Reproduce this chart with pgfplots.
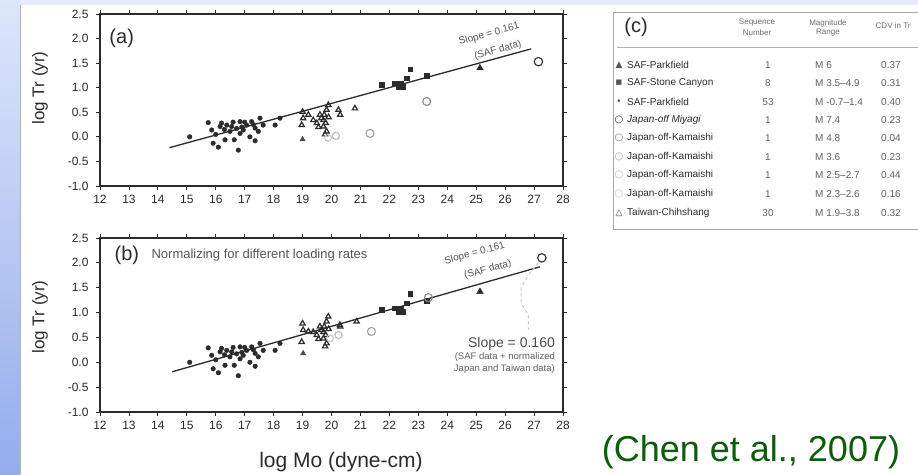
\documentclass[border=0pt]{standalone}
\usepackage{pgfplots}
\usepackage{pgfplotstable}
\pgfplotsset{compat=1.18}
\usepackage{fontspec}
\setmainfont{Liberation Sans}
\newfontfamily\symfont{DejaVu Sans}
\definecolor{ink}{HTML}{2B2B2B}
\definecolor{slideblueA}{HTML}{DCE6FA}
\definecolor{slideblueB}{HTML}{94ACEB}
\definecolor{topband}{HTML}{E2EBF9}
\definecolor{citegreen}{RGB}{12,92,12}
\newcommand{\fs}[1]{\fontsize{#1}{#1}\selectfont}

\pgfplotstableread{
x y
15.10 0.00
15.74 0.29
15.86 0.14
15.91 -0.13
16.00 0.05
16.09 -0.21
16.15 0.21
16.20 0.28
16.30 0.15
16.32 -0.06
16.38 0.24
16.49 0.11
16.55 0.21
16.60 0.30
16.64 -0.06
16.72 0.17
16.78 -0.27
16.84 0.31
16.84 0.07
16.90 0.20
16.95 0.14
17.00 0.30
17.07 0.24
17.18 0.00
17.24 0.31
17.30 0.25
17.36 0.18
17.36 -0.08
17.47 0.11
17.53 0.38
17.64 0.24
18.05 0.24
18.22 0.38
}\safpk

\pgfplotstableread{
x y
21.73 1.06
22.19 1.09
22.31 1.02
22.40 1.08
22.48 1.02
22.60 1.19
22.72 1.38
23.29 1.24
}\stone

\pgfplotstableread{
x y
18.97 0.24
19.00 0.51
19.02 0.38
19.20 0.45
19.37 0.34
19.49 0.28
19.55 0.20
19.60 0.45
19.65 0.38
19.72 0.34
19.72 0.21
19.75 0.45
19.78 0.05
19.80 0.28
19.83 0.55
19.83 0.11
19.89 0.65
19.90 0.40
20.24 0.55
20.30 0.45
20.81 0.58
}\taiwanA

\pgfplotstableread{
x y
18.97 0.41
19.00 0.78
19.02 0.65
19.20 0.62
19.37 0.61
19.49 0.55
19.55 0.47
19.60 0.72
19.65 0.65
19.72 0.61
19.72 0.48
19.75 0.72
19.78 0.32
19.80 0.55
19.83 0.82
19.83 0.38
19.89 0.92
19.90 0.67
20.29 0.75
20.30 0.72
20.87 0.82
}\taiwanB

\pgfplotsset{
  chenaxis/.style={
    scale only axis, width=463pt, anchor=south west,
    xmin=12, xmax=28, ymin=-1, ymax=2.5,
    xtick={12,13,14,15,16,17,18,19,20,21,22,23,24,25,26,27,28},
    ytick={-1,-0.5,0,0.5,1,1.5,2,2.5},
    yticklabels={-1.0,-0.5,0.0,0.5,1.0,1.5,2.0,2.5},
    tick align=outside, major tick length=4pt,
    every tick/.style={ink, line width=0.8pt},
    axis line style={ink, line width=1.7pt},
    tick label style={font=\fs{12}, text=ink},
    yticklabel style={xshift=-4pt},
    xticklabel style={yshift=-2pt},
    /pgf/number format/assume math mode=true,
    clip=false,
  },
  pkstyle/.style={only marks, mark=*, mark size=2.3pt, color=ink},
  scstyle/.style={only marks, mark=square*, mark size=2.3pt, color=ink},
  m6style/.style={only marks, mark=triangle*, mark size=3.8pt, color=ink},
  twstyle/.style={only marks, mark=triangle, mark size=3pt, color=ink, mark options={line width=1.2pt}},
  jpstyle/.style={only marks, mark=o, mark size=#1, mark options={line width=1.1pt}},
}

\begin{document}
\begin{tikzpicture}
\useasboundingbox (0pt,0pt) rectangle (918pt,474pt);
\clip (0pt,0pt) rectangle (918pt,474pt);
\fill[topband] (0pt,0pt) rectangle (918pt,474pt);
\shade[top color=slideblueA, bottom color=slideblueB] (0pt,0pt) rectangle (20pt,474pt);
\fill[white] (21pt,0pt) rectangle (918pt,469pt);
\draw[gray!60, line width=1pt] (20.5pt,0pt) -- (20.5pt,469pt);

% ---------- panel (a)
\begin{axis}[chenaxis, at={(100pt,288pt)}, height=172pt]
\addplot[ink, line width=1.3pt] coordinates {(14.4,-0.22) (26.9,1.79)};
\addplot[pkstyle] table {\safpk};
\addplot[scstyle] table {\stone};
\addplot[m6style] coordinates {(25.13,1.40)};
\addplot[twstyle] table {\taiwanA};
\addplot[only marks, mark=triangle*, mark size=3pt, color=ink!85] coordinates {(19.0,-0.05)};
\addplot[jpstyle=4.2pt, color=ink] coordinates {(27.15,1.53)};
\addplot[jpstyle=4pt, color=gray!90] coordinates {(23.29,0.72)};
\addplot[jpstyle=4pt, color=gray!75] coordinates {(21.33,0.07)};
\addplot[jpstyle=3.6pt, color=gray!55] coordinates {(20.15,0.02)};
\addplot[jpstyle=3.4pt, color=gray!45] coordinates {(19.88,-0.02)};
\node[font=\fs{20}, text=ink] at (axis cs:12.75,2.0) {(a)};
\node[rotate=15.3, font=\fs{10}, text=ink!80, inner sep=0.5pt] at (axis cs:25.45,2.09) {Slope = 0.161};
\node[rotate=15.3, font=\fs{10}, text=ink!80, inner sep=0.5pt] at (axis cs:25.75,1.76) {(SAF data)};
\end{axis}

% ---------- panel (b)
\begin{axis}[chenaxis, at={(100pt,62pt)}, height=174pt]
\addplot[ink, line width=1.3pt] coordinates {(14.5,-0.19) (27.2,1.92)};
\addplot[gray!45, line width=1pt, dashed] coordinates {(27.15,2.0) (26.8,1.75) (26.55,1.5) (26.55,1.2) (26.8,0.95) (26.8,0.65)};
\addplot[pkstyle] table {\safpk};
\addplot[scstyle] table {\stone};
\addplot[m6style] coordinates {(25.13,1.42)};
\addplot[twstyle] table {\taiwanB};
\addplot[only marks, mark=triangle*, mark size=3pt, color=ink!85] coordinates {(19.02,0.18)};
\addplot[jpstyle=4.2pt, color=ink] coordinates {(27.27,2.10)};
\addplot[jpstyle=4pt, color=gray!90] coordinates {(23.35,1.30)};
\addplot[jpstyle=4pt, color=gray!75] coordinates {(21.38,0.62)};
\addplot[jpstyle=3.6pt, color=gray!55] coordinates {(20.24,0.55)};
\addplot[jpstyle=3.4pt, color=gray!45] coordinates {(19.95,0.48)};
\node[font=\fs{20}, text=ink] at (axis cs:12.93,2.16) {(b)};
\node[anchor=west, font=\fs{13}, text=ink!80] at (axis cs:13.66,2.16) {Normalizing for different loading rates};
\node[rotate=15.3, font=\fs{10}, text=ink!80, inner sep=0.5pt] at (axis cs:24.95,2.19) {Slope = 0.161};
\node[rotate=15.3, font=\fs{10}, text=ink!80, inner sep=0.5pt] at (axis cs:25.4,1.86) {(SAF data)};
\node[anchor=east, font=\fs{14}, text=ink!85, inner sep=1pt] at (axis cs:27.76,0.37) {Slope = 0.160};
\node[anchor=east, font=\fs{9.5}, text=ink!75, inner sep=1pt] at (axis cs:27.76,0.11) {(SAF data + normalized};
\node[anchor=east, font=\fs{9.5}, text=ink!75, inner sep=1pt] at (axis cs:27.76,-0.13) {Japan and Taiwan data)};
\end{axis}

% ---------- axis titles
\node[rotate=90, font=\fs{17}, text=ink] at (40pt,386pt) {log Tr (yr)};
\node[rotate=90, font=\fs{17}, text=ink] at (40pt,157pt) {log Tr (yr)};
\node[font=\fs{21}, text=ink] at (341pt,12pt) {log Mo (dyne-cm)};

% ---------- table (c)
\draw[gray!70, line width=1pt] (613pt,461pt) rectangle (935pt,244pt);
\draw[gray!60, line width=0.8pt] (617pt,427pt) -- (935pt,427pt);
\node[font=\fs{20}, text=ink, inner sep=1pt] at (636pt,447pt) {(c)};
\begin{scope}[every node/.style={font=\fs{8}, text=ink!70, inner sep=0.5pt}]
\node at (757pt,451pt) {Sequence};
\node at (757pt,441pt) {Number};
\node at (828pt,451pt) {Magnitude};
\node at (828pt,441pt) {Range};
\node[anchor=west] at (875pt,448pt) {CDV in Tr};
\end{scope}
\begin{scope}[every node/.style={font=\fs{10}, text=ink!80, inner sep=1pt}]
\node[font=\symfont\fs{9}] at (619pt,409pt) {▲};
\node[font=\symfont\fs{7}] at (619pt,391pt) {■};
\node[font=\symfont\fs{9}] at (619pt,372pt) {•};
\node[font=\symfont\fs{10}, text=ink] at (619pt,354pt) {○};
\node[font=\symfont\fs{10}, text=gray] at (619pt,336pt) {○};
\node[font=\symfont\fs{10}, text=gray!75] at (619pt,317pt) {○};
\node[font=\symfont\fs{10}, text=gray!55] at (619pt,299pt) {○};
\node[font=\symfont\fs{10}, text=gray!45] at (619pt,280pt) {○};
\node[font=\symfont\fs{9}] at (619pt,261pt) {△};
\end{scope}
\begin{scope}[every node/.style={font=\fs{10}, text=ink, inner sep=1pt, anchor=west}]
\node at (626pt,409pt) {SAF-Parkfield};
\node at (626pt,391pt) {SAF-Stone Canyon};
\node at (626pt,372pt) {SAF-Parkfield};
\node at (626pt,354pt) {\itshape Japan-off Miyagi};
\node at (626pt,336pt) {Japan-off-Kamaishi};
\node at (626pt,317pt) {Japan-off-Kamaishi};
\node at (626pt,299pt) {Japan-off-Kamaishi};
\node at (626pt,280pt) {Japan-off-Kamaishi};
\node at (626pt,261pt) {Taiwan-Chihshang};
\end{scope}
\begin{scope}[every node/.style={font=\fs{10}, text=ink!75, inner sep=1pt}]
\node at (768pt,409pt) {1};
\node at (768pt,391pt) {8};
\node at (768pt,372pt) {53};
\node at (768pt,354pt) {1};
\node at (768pt,336pt) {1};
\node at (768pt,317pt) {1};
\node at (768pt,299pt) {1};
\node at (768pt,280pt) {1};
\node at (768pt,261pt) {30};
\node[anchor=west] at (814pt,409pt) {M 6};
\node[anchor=west] at (814pt,391pt) {M 3.5--4.9};
\node[anchor=west] at (814pt,372pt) {M -0.7--1.4};
\node[anchor=west] at (814pt,354pt) {M 7.4};
\node[anchor=west] at (814pt,336pt) {M 4.8};
\node[anchor=west] at (814pt,317pt) {M 3.6};
\node[anchor=west] at (814pt,299pt) {M 2.5--2.7};
\node[anchor=west] at (814pt,280pt) {M 2.3--2.6};
\node[anchor=west] at (814pt,261pt) {M 1.9--3.8};
\node[anchor=west] at (880pt,409pt) {0.37};
\node[anchor=west] at (880pt,391pt) {0.31};
\node[anchor=west] at (880pt,372pt) {0.40};
\node[anchor=west] at (880pt,354pt) {0.23};
\node[anchor=west] at (880pt,336pt) {0.04};
\node[anchor=west] at (880pt,317pt) {0.23};
\node[anchor=west] at (880pt,299pt) {0.44};
\node[anchor=west] at (880pt,280pt) {0.16};
\node[anchor=west] at (880pt,261pt) {0.32};
\end{scope}

% ---------- citation
\node[text=citegreen, font=\fs{36}] at (751pt,22pt) {(Chen et al., 2007)};
\end{tikzpicture}
\end{document}
